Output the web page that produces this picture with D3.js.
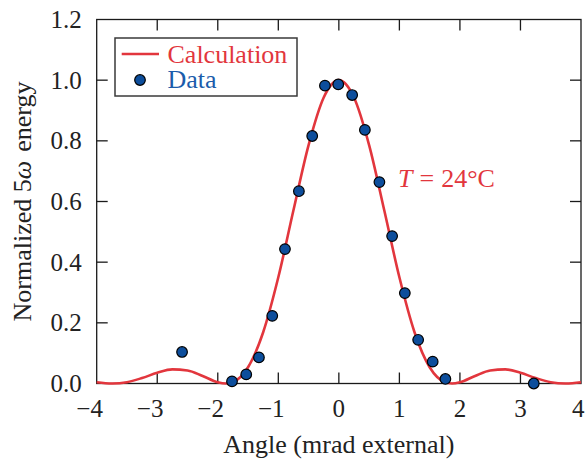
<!DOCTYPE html>
<html>
<head>
<meta charset="utf-8">
<script src="https://cdn.jsdelivr.net/npm/d3@7"></script>
<style>
  html, body { margin: 0; padding: 0; background: #fff; }
  svg { display: block; font-family: "Liberation Serif", "Times New Roman", serif; }
</style>
</head>
<body>
<svg id="chart" width="585" height="461"></svg>
<script>
// Measured 5ω energy versus external angle
const dataAngle  = [-2.59, -1.765, -1.53, -1.32, -1.10, -0.89, -0.66, -0.44, -0.23, -0.01,
                     0.22, 0.43, 0.67, 0.88, 1.09, 1.31, 1.55, 1.76, 3.22];
const dataEnergy = [0.104, 0.007, 0.030, 0.086, 0.223, 0.443, 0.634, 0.816, 0.982, 0.986,
                    0.951, 0.836, 0.664, 0.486, 0.298, 0.144, 0.072, 0.015, 0.000];

// Calculated phase-matching curve
const calcAngle  = [-4, -3.75, -3.74, -3.5, -3.25, -3, -2.75, -2.5, -2.25, -2, -1.87, -1.75, -1.5, -1.25, -1, -0.75, -0.5, -0.25,
                     0, 0.25, 0.5, 0.75, 1, 1.25, 1.5, 1.75, 1.87, 2, 2.25, 2.5, 2.75, 3, 3.25, 3.5, 3.74, 3.75, 4];
const calcEnergy = [0.0042, 0.0000, 0.0000, 0.0044, 0.0181, 0.0353, 0.0465, 0.0431, 0.0249, 0.0041, 0.0000, 0.0046, 0.0535, 0.1690, 0.3501, 0.5710, 0.7858, 0.9428,
                    1.0, 0.9428, 0.7858, 0.5710, 0.3501, 0.1690, 0.0535, 0.0046, 0.0000, 0.0041, 0.0249, 0.0431, 0.0465, 0.0353, 0.0181, 0.0044, 0.0000, 0.0000, 0.0042];

const xTicks = [-4, -3, -2, -1, 0, 1, 2, 3, 4];
const yTicks = [0, 0.2, 0.4, 0.6, 0.8, 1.0, 1.2];

const RED = "#e2363d";
const BLUE = "#0d4e9c";
const BLUE_TEXT = "#1b5cab";

const svg = d3.select("#chart");
const W = +svg.attr("width");
const plotL = 96.7, plotR = 581, plotT = 19.5, plotB = 383.5;
const x = d3.scaleLinear().domain([-4, 4]).range([plotL, plotR]);
const y = d3.scaleLinear().domain([0, 1.2]).range([plotB, plotT]);
const tickLen = 11;
const fmtX = d => d < 0 ? "\u2212" + Math.abs(d) : String(d);

// Frame and inward ticks
const axes = svg.append("g").attr("stroke", "#1a1a1a").attr("stroke-width", 1.3).attr("fill", "none");
axes.append("rect").attr("x", plotL).attr("y", plotT).attr("width", plotR - plotL).attr("height", plotB - plotT);
xTicks.slice(1, -1).forEach(t => {
  axes.append("line").attr("x1", x(t)).attr("x2", x(t)).attr("y1", plotB).attr("y2", plotB - tickLen);
  axes.append("line").attr("x1", x(t)).attr("x2", x(t)).attr("y1", plotT).attr("y2", plotT + tickLen);
});
yTicks.slice(1, -1).forEach(t => {
  axes.append("line").attr("x1", plotL).attr("x2", plotL + tickLen).attr("y1", y(t)).attr("y2", y(t));
  axes.append("line").attr("x1", plotR).attr("x2", plotR - tickLen).attr("y1", y(t)).attr("y2", y(t));
});

// Tick labels (digit centred under its tick, kept inside the page)
svg.append("g").selectAll("text").data(xTicks).join("text")
  .attr("x", d => Math.min(x(d) + 6.2, W - 0.5)).attr("y", plotB + 33)
  .attr("text-anchor", "end").attr("font-size", 25).attr("fill", "#222")
  .text(fmtX);
svg.append("g").selectAll("text").data(yTicks).join("text")
  .attr("x", plotL - 15).attr("y", d => y(d)).attr("dy", "0.34em")
  .attr("text-anchor", "end").attr("font-size", 25).attr("fill", "#222")
  .text(d => d.toFixed(1));

// Axis titles
svg.append("text").attr("x", (plotL + plotR) / 2).attr("y", 453)
  .attr("text-anchor", "middle").attr("font-size", 26).attr("fill", "#222")
  .text("Angle (mrad external)");
const yl = svg.append("text")
  .attr("transform", `translate(31,${(plotT + plotB) / 2}) rotate(-90)`)
  .attr("text-anchor", "middle").attr("font-size", 26).attr("fill", "#222");
yl.append("tspan").text("Normalized 5");
yl.append("tspan").attr("font-style", "italic").text("\u03c9");
yl.append("tspan").attr("dx", 9).text("energy");

// Calculated curve
const line = d3.line().x((d, i) => x(calcAngle[i])).y(d => y(d)).curve(d3.curveMonotoneX);
svg.append("path").datum(calcEnergy).attr("d", line)
  .attr("fill", "none").attr("stroke", RED).attr("stroke-width", 2.6);

// Data points
svg.append("g").selectAll("circle").data(dataEnergy).join("circle")
  .attr("cx", (d, i) => x(dataAngle[i])).attr("cy", d => y(d)).attr("r", 5.3)
  .attr("fill", BLUE).attr("stroke", "#000").attr("stroke-width", 1.2);

// Temperature annotation
const tl = svg.append("text").attr("x", 398).attr("y", 187).attr("font-size", 26).attr("fill", RED);
tl.append("tspan").attr("font-style", "italic").text("T");
tl.append("tspan").attr("dx", 7).text("=");
tl.append("tspan").attr("dx", 7).text("24\u00b0C");

// Legend
const lg = svg.append("g");
lg.append("rect").attr("x", 115).attr("y", 38).attr("width", 182).attr("height", 58)
  .attr("fill", "#fff").attr("stroke", "#3a3a3a").attr("stroke-width", 1.5);
lg.append("line").attr("x1", 121.7).attr("x2", 159).attr("y1", 54).attr("y2", 54)
  .attr("stroke", RED).attr("stroke-width", 2.6);
lg.append("circle").attr("cx", 140).attr("cy", 80).attr("r", 5.3)
  .attr("fill", BLUE).attr("stroke", "#000").attr("stroke-width", 1.2);
lg.append("text").attr("x", 167.5).attr("y", 63).attr("font-size", 26).attr("fill", RED).text("Calculation");
lg.append("text").attr("x", 167.5).attr("y", 87.5).attr("font-size", 26).attr("fill", BLUE_TEXT).text("Data");
</script>
</body>
</html>
